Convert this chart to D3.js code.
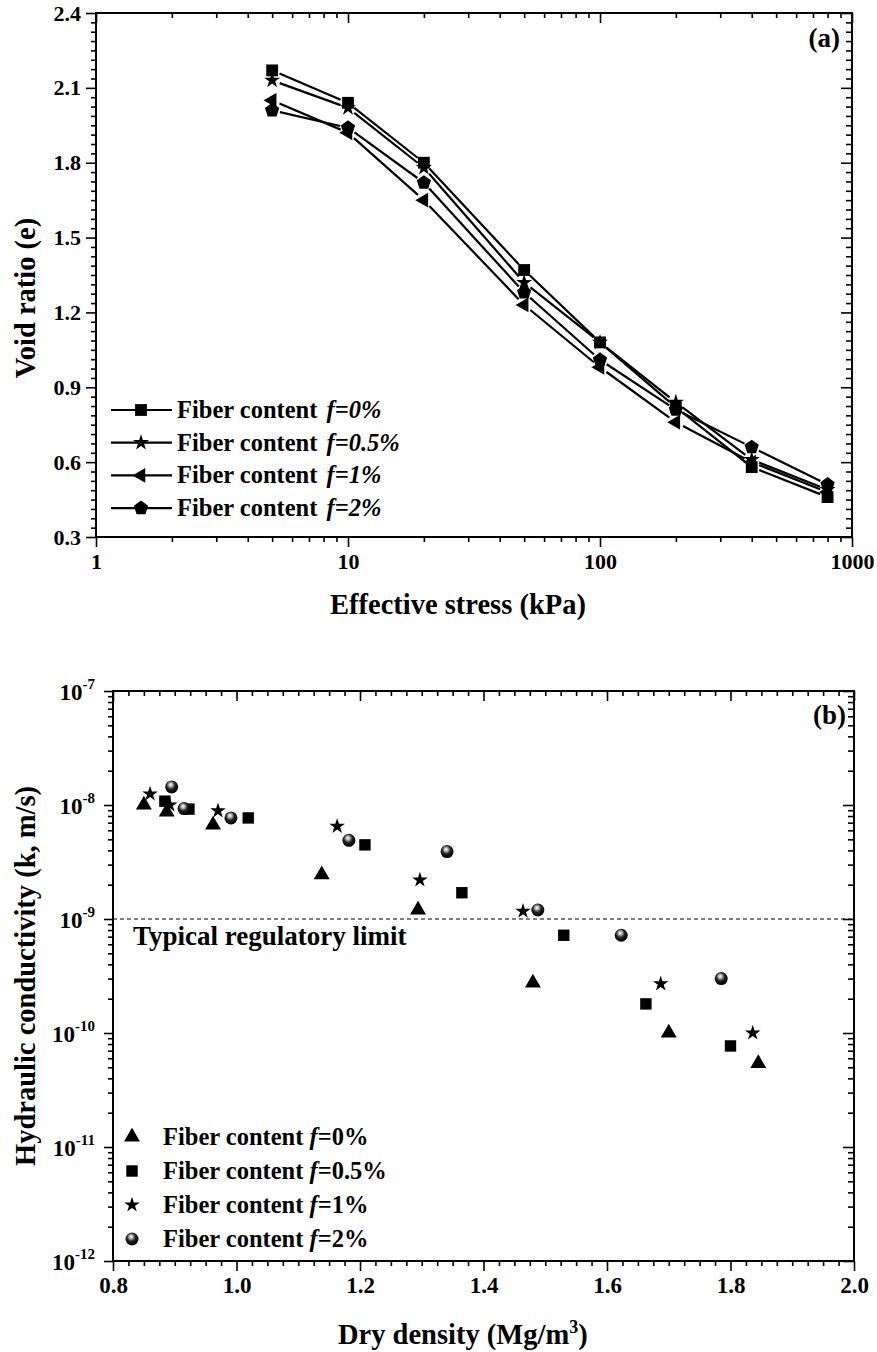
<!DOCTYPE html>
<html>

<head>
    <meta charset="UTF-8">
    <title>Void ratio and hydraulic conductivity</title>
    <script src="https://d3js.org/d3.v7.min.js"></script>
    <style>
        body { margin: 0; background: #fff; }
        svg { display: block; }
    </style>
</head>

<body>
    <svg width="877" height="1352"></svg>
    <script>
        // (a) void ratio vs effective stress
        const stress = [5, 10, 20, 50, 100, 200, 400, 800];
        const voidF0 = [2.17, 2.04, 1.80, 1.37, 1.08, 0.82, 0.58, 0.46];
        const voidF05 = [2.13, 2.02, 1.78, 1.32, 1.08, 0.84, 0.61, 0.49];
        const voidF1 = [2.05, 1.92, 1.65, 1.23, 0.98, 0.76, 0.60, 0.48];
        const voidF2 = [2.01, 1.94, 1.72, 1.28, 1.01, 0.81, 0.66, 0.51];
        const topLabels = ['f=0%', 'f=0.5%', 'f=1%', 'f=2%'];
        const voidTicks = [0.3, 0.6, 0.9, 1.2, 1.5, 1.8, 2.1, 2.4];
        const stressTicks = [1, 10, 100, 1000];

        // (b) hydraulic conductivity vs dry density
        const densF0 = [0.850, 0.887, 0.962, 1.138, 1.294, 1.480, 1.700, 1.845];
        const kF0 = [1.0e-8, 8.7e-9, 6.7e-9, 2.45e-9, 1.2e-9, 2.75e-10, 1.0e-10, 5.4e-11];
        const densF05 = [0.884, 0.923, 1.019, 1.208, 1.365, 1.530, 1.663, 1.800];
        const kF05 = [1.08e-8, 9.2e-9, 7.7e-9, 4.47e-9, 1.7e-9, 7.2e-10, 1.8e-10, 7.7e-11];
        const densF1 = [0.860, 0.892, 0.970, 1.163, 1.297, 1.464, 1.687, 1.836];
        const kF1 = [1.25e-8, 1.0e-8, 8.9e-9, 6.5e-9, 2.2e-9, 1.17e-9, 2.7e-10, 1.0e-10];
        const densF2 = [0.895, 0.915, 0.991, 1.182, 1.341, 1.488, 1.623, 1.785];
        const kF2 = [1.44e-8, 9.3e-9, 7.7e-9, 4.9e-9, 3.9e-9, 1.2e-9, 7.2e-10, 3.0e-10];
        const botLabels = ['=0%', '=0.5%', '=1%', '=2%'];
        const densTicks = [0.8, 1.0, 1.2, 1.4, 1.6, 1.8, 2.0];
        const kExponents = [-12, -11, -10, -9, -8, -7];
        const regulatoryLimit = 1e-9;

        const svg = d3.select('svg');

        const defs = svg.append('defs');
        const grad = defs.append('radialGradient').attr('id', 'sphere')
            .attr('cx', '45%').attr('cy', '38%').attr('r', '60%')
            .attr('fx', '42%').attr('fy', '32%');
        grad.append('stop').attr('offset', '0%').attr('stop-color', '#fff');
        grad.append('stop').attr('offset', '22%').attr('stop-color', '#bbb');
        grad.append('stop').attr('offset', '55%').attr('stop-color', '#222');
        grad.append('stop').attr('offset', '100%').attr('stop-color', '#000');

        function pentagon(r) {
            const pts = d3.range(5).map(i => {
                const a = -Math.PI / 2 + i * 2 * Math.PI / 5;
                return [r * Math.cos(a), r * Math.sin(a)];
            });
            return 'M' + pts.map(p => p.join(',')).join('L') + 'Z';
        }

        function drawMarker(g, kind, x, y, big) {
            if (kind === 'square') {
                g.append('path').attr('d', d3.symbol(d3.symbolSquare, big ? 130 : 140)())
                    .attr('transform', `translate(${x},${y})`);
            } else if (kind === 'star') {
                g.append('path').attr('d', d3.symbol(d3.symbolStar, big ? 75 : 80)())
                    .attr('transform', `translate(${x},${y})`);
            } else if (kind === 'left') {
                g.append('path').attr('d', d3.symbol(d3.symbolTriangle, 95)())
                    .attr('transform', `translate(${x},${y}) rotate(-90)`);
            } else if (kind === 'triangle') {
                g.append('path').attr('d', d3.symbol(d3.symbolTriangle, 110)())
                    .attr('transform', `translate(${x},${y})`);
            } else if (kind === 'pentagon') {
                g.append('path').attr('d', pentagon(7.5))
                    .attr('transform', `translate(${x},${y})`);
            } else if (kind === 'sphere') {
                g.append('circle').attr('cx', x).attr('cy', y).attr('r', 6.5)
                    .attr('fill', 'url(#sphere)');
            }
        }

        function styleAxis(g, fontSize) {
            g.select('.domain').remove();
            g.attr('font-family', null);
            g.selectAll('line').attr('stroke', '#000').attr('stroke-width', 1.6);
            g.selectAll('text').attr('font-size', fontSize).attr('fill', '#000');
        }

        // ---------------- chart (a) ----------------
        const xA = d3.scaleLog().domain([1, 1000]).range([96, 852]);
        const yA = d3.scaleLinear().domain([0.3, 2.4]).range([537, 13]);
        const chartA = svg.append('g');

        const minorLog = [];
        [1, 10, 100].forEach(d => d3.range(2, 10).forEach(m => minorLog.push(d * m)));
        const minorVoid = d3.range(0, 57).map(i => 0.3 + i * 0.0375).filter(v => v < 2.4 && !voidTicks.some(t => Math.abs(t - v) < 1e-6));

        // bottom
        chartA.append('g').attr('transform', 'translate(0,537)')
            .call(d3.axisBottom(xA).tickValues(minorLog).tickSize(5).tickFormat(''))
            .call(g => styleAxis(g, 21));
        chartA.append('g').attr('transform', 'translate(0,537)')
            .call(d3.axisBottom(xA).tickValues(stressTicks).tickSize(10).tickPadding(6).tickFormat(d3.format('d')))
            .call(g => styleAxis(g, 22));
        // top (inward)
        chartA.append('g').attr('transform', 'translate(0,13)')
            .call(d3.axisTop(xA).tickValues(minorLog).tickSize(-5).tickFormat(''))
            .call(g => styleAxis(g, 21));
        chartA.append('g').attr('transform', 'translate(0,13)')
            .call(d3.axisTop(xA).tickValues(stressTicks).tickSize(-10).tickFormat(''))
            .call(g => styleAxis(g, 21));
        // left
        chartA.append('g').attr('transform', 'translate(96,0)')
            .call(d3.axisLeft(yA).tickValues(minorVoid).tickSize(5).tickFormat(''))
            .call(g => styleAxis(g, 21));
        chartA.append('g').attr('transform', 'translate(96,0)')
            .call(d3.axisLeft(yA).tickValues(voidTicks).tickSize(10).tickPadding(5).tickFormat(d3.format('.1f')))
            .call(g => styleAxis(g, 22));
        // right (inward)
        chartA.append('g').attr('transform', 'translate(852,0)')
            .call(d3.axisRight(yA).tickValues(minorVoid).tickSize(-6).tickFormat(''))
            .call(g => styleAxis(g, 21));
        chartA.append('g').attr('transform', 'translate(852,0)')
            .call(d3.axisRight(yA).tickValues(voidTicks).tickSize(-11).tickFormat(''))
            .call(g => styleAxis(g, 21));

        chartA.append('rect').attr('x', 96).attr('y', 13).attr('width', 756).attr('height', 524)
            .attr('fill', 'none').attr('stroke', '#000').attr('stroke-width', 2);

        const seriesA = [
            { vals: voidF0, kind: 'square' },
            { vals: voidF05, kind: 'star' },
            { vals: voidF1, kind: 'left' },
            { vals: voidF2, kind: 'pentagon' }
        ];
        const gap = 8;
        seriesA.forEach(s => {
            const pts = stress.map((x, i) => [xA(x), yA(s.vals[i])]);
            for (let i = 0; i < pts.length - 1; i++) {
                const [x1, y1] = pts[i], [x2, y2] = pts[i + 1];
                const len = Math.hypot(x2 - x1, y2 - y1);
                const ux = (x2 - x1) / len, uy = (y2 - y1) / len;
                chartA.append('line')
                    .attr('x1', x1 + ux * gap).attr('y1', y1 + uy * gap)
                    .attr('x2', x2 - ux * gap).attr('y2', y2 - uy * gap)
                    .attr('stroke', '#000').attr('stroke-width', 2.2);
            }
        });
        seriesA.forEach(s => {
            const g = chartA.append('g').attr('fill', '#000');
            stress.forEach((x, i) => drawMarker(g, s.kind, xA(x), yA(s.vals[i])));
        });

        // legend (a)
        const legA = chartA.append('g');
        seriesA.forEach((s, i) => {
            const y = 410 + i * 32.7;
            legA.append('line').attr('x1', 111).attr('x2', 172).attr('y1', y).attr('y2', y)
                .attr('stroke', '#000').attr('stroke-width', 2.2);
            const g = legA.append('g').attr('fill', '#000');
            drawMarker(g, s.kind, 141, y);
            const t = legA.append('text').attr('x', 177).attr('y', y + 8).attr('font-size', 24.5);
            t.append('tspan').text('Fiber content ');
            t.append('tspan').attr('font-style', 'italic').attr('dx', 3).text(topLabels[i]);
        });

        chartA.append('text').attr('x', 840).attr('y', 47).attr('text-anchor', 'end')
            .attr('font-size', 27).text('(a)');
        chartA.append('text').attr('transform', 'translate(35,298) rotate(-90)')
            .attr('text-anchor', 'middle').attr('font-size', 28.5).text('Void ratio (e)');
        chartA.append('text').attr('x', 330).attr('y', 614)
            .attr('font-size', 28.5).text('Effective stress (kPa)');

        // ---------------- chart (b) ----------------
        const xB = d3.scaleLinear().domain([0.8, 2.0]).range([113, 854]);
        const yB = d3.scaleLog().domain([1e-12, 1e-7]).range([1261, 691]);
        const chartB = svg.append('g');

        const minorDens = d3.range(0, 49).map(i => 0.8 + i * 0.025).filter(v => v < 2.0 + 1e-9 && !densTicks.some(t => Math.abs(t - v) < 1e-6));
        const minorK = [];
        d3.range(-12, -7).forEach(e => d3.range(2, 10).forEach(m => minorK.push(m * Math.pow(10, e))));
        const majorK = kExponents.map(e => Math.pow(10, e));

        chartB.append('g').attr('transform', 'translate(0,1261)')
            .call(d3.axisBottom(xB).tickValues(minorDens).tickSize(5).tickFormat(''))
            .call(g => styleAxis(g, 21));
        chartB.append('g').attr('transform', 'translate(0,1261)')
            .call(d3.axisBottom(xB).tickValues(densTicks).tickSize(10).tickPadding(6).tickFormat(d3.format('.1f')))
            .call(g => styleAxis(g, 23));
        chartB.append('g').attr('transform', 'translate(0,691)')
            .call(d3.axisTop(xB).tickValues(minorDens).tickSize(-5).tickFormat(''))
            .call(g => styleAxis(g, 21));
        chartB.append('g').attr('transform', 'translate(0,691)')
            .call(d3.axisTop(xB).tickValues(densTicks).tickSize(-10).tickFormat(''))
            .call(g => styleAxis(g, 21));
        chartB.append('g').attr('transform', 'translate(113,0)')
            .call(d3.axisLeft(yB).tickValues(minorK).tickSize(5).tickFormat(''))
            .call(g => styleAxis(g, 21));
        chartB.append('g').attr('transform', 'translate(113,0)')
            .call(d3.axisLeft(yB).tickValues(majorK).tickSize(9).tickFormat(''))
            .call(g => styleAxis(g, 21));
        chartB.append('g').attr('transform', 'translate(854,0)')
            .call(d3.axisRight(yB).tickValues(minorK).tickSize(-6).tickFormat(''))
            .call(g => styleAxis(g, 21));
        chartB.append('g').attr('transform', 'translate(854,0)')
            .call(d3.axisRight(yB).tickValues(majorK).tickSize(-11).tickFormat(''))
            .call(g => styleAxis(g, 21));

        // power-of-ten labels
        kExponents.forEach(e => {
            const t = chartB.append('text').attr('x', 95).attr('y', yB(Math.pow(10, e)) + 9)
                .attr('text-anchor', 'end').attr('font-size', 23);
            t.append('tspan').text('10');
            t.append('tspan').attr('font-size', 15).attr('dy', -11).text(String(e));
        });

        chartB.append('rect').attr('x', 113).attr('y', 691).attr('width', 741).attr('height', 570)
            .attr('fill', 'none').attr('stroke', '#000').attr('stroke-width', 2);

        chartB.append('line').attr('x1', 113).attr('x2', 854)
            .attr('y1', yB(regulatoryLimit)).attr('y2', yB(regulatoryLimit))
            .attr('stroke', '#000').attr('stroke-width', 1).attr('stroke-dasharray', '4,3');
        chartB.append('text').attr('x', 133).attr('y', 945).attr('font-size', 27)
            .text('Typical regulatory limit');

        const seriesB = [
            { dens: densF0, k: kF0, kind: 'triangle' },
            { dens: densF05, k: kF05, kind: 'square' },
            { dens: densF1, k: kF1, kind: 'star' },
            { dens: densF2, k: kF2, kind: 'sphere' }
        ];
        seriesB.forEach(s => {
            const g = chartB.append('g').attr('fill', '#000');
            s.dens.forEach((d, i) => drawMarker(g, s.kind, xB(d), yB(s.k[i]), true));
        });

        const legB = chartB.append('g');
        seriesB.forEach((s, i) => {
            const y = 1137 + i * 34;
            const g = legB.append('g').attr('fill', '#000');
            drawMarker(g, s.kind, 132, y, true);
            const t = legB.append('text').attr('x', 163).attr('y', y + 8).attr('font-size', 24.5);
            t.append('tspan').text('Fiber content ');
            t.append('tspan').attr('font-style', 'italic').text('f');
            t.append('tspan').text(botLabels[i]);
        });

        chartB.append('text').attr('x', 846).attr('y', 724).attr('text-anchor', 'end')
            .attr('font-size', 27).text('(b)');
        chartB.append('text').attr('transform', 'translate(35,976) rotate(-90)')
            .attr('text-anchor', 'middle').attr('font-size', 28.5).text('Hydraulic conductivity (k, m/s)');
        const xt = chartB.append('text').attr('x', 338).attr('y', 1344)
            .attr('font-size', 28.5);
        xt.append('tspan').text('Dry density (Mg/m');
        xt.append('tspan').attr('font-size', 18).attr('dy', -11).text('3');
        xt.append('tspan').attr('dy', 11).text(')');

        // serif bold everywhere
        svg.selectAll('text')
            .style('font-family', '"Liberation Serif"')
            .attr('font-weight', 'bold')
            .attr('fill', '#000');
    </script>
</body>

</html>
